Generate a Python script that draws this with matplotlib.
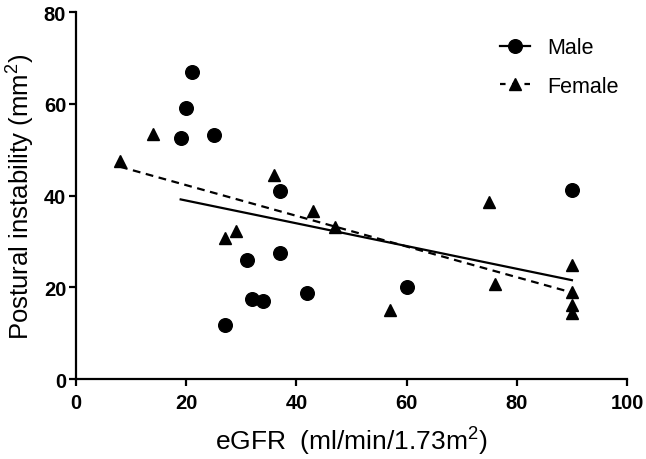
import matplotlib
matplotlib.use("Agg")
import matplotlib.pyplot as plt
import numpy as np

plt.rcParams["font.family"] = ["Liberation Sans", "DejaVu Sans"]
plt.rcParams["mathtext.fontset"] = "custom"
plt.rcParams["mathtext.rm"] = "Liberation Sans"
plt.rcParams["mathtext.it"] = "Liberation Sans"
plt.rcParams["mathtext.default"] = "regular"

# eGFR (x) and postural instability (y) per group
male_egfr = [19, 20, 21, 25, 27, 31, 32, 34, 37, 37, 42, 60, 90]
male_pi = [52.6, 59, 67, 53.3, 11.7, 26, 17.4, 17, 41, 27.5, 18.7, 20, 41.2]
female_egfr = [8, 14, 27, 29, 36, 43, 47, 57, 75, 76, 90, 90, 90, 90]
female_pi = [47.5, 53.5, 30.8, 32.3, 44.5, 36.6, 33.2, 15.1, 38.5, 20.7,
             24.8, 19.0, 16.2, 14.4]

xticks = [0, 20, 40, 60, 80, 100]
yticks = [0, 20, 40, 60, 80]

fig = plt.figure(figsize=(6.46, 4.60), dpi=100)
ax = fig.add_axes([0.1176, 0.1739, 0.853, 0.7978])


def fit_line(x, y):
    x = np.asarray(x, float)
    y = np.asarray(y, float)
    k, b = np.polyfit(x, y, 1)
    xs = np.array([x.min(), x.max()])
    return xs, k * xs + b


# regression lines over each group's data range
mx, my = fit_line(male_egfr, male_pi)
fx, fy = fit_line(female_egfr, female_pi)
ax.plot(mx, my, color="black", linewidth=1.6, zorder=2)
ax.plot(fx, fy, color="black", linewidth=1.6, linestyle=(0, (3.5, 2.5)), zorder=2)

ax.plot(male_egfr, male_pi, "o", color="black", markersize=9.8,
        clip_on=False, zorder=3)
ax.plot(female_egfr, female_pi, "^", color="black", markersize=8,
        clip_on=False, zorder=3)

# legend handles: line + marker like GraphPad
h_m, = ax.plot([], [], "-o", color="black", linewidth=1.6, markersize=9.8)
h_f, = ax.plot([], [], "^", linestyle=(0, (2.5, 3)), color="black",
               linewidth=1.6, markersize=8)
ax.legend([h_m, h_f], ["Male", "Female"], loc="upper left",
          bbox_to_anchor=(0.742, 0.972), frameon=False, fontsize=15.5,
          handlelength=1.4, handletextpad=0.8, labelspacing=0.8,
          borderpad=0.2)

ax.set_xlim(0, 100)
ax.set_ylim(0, 80)
ax.set_xticks(xticks)
ax.set_yticks(yticks)
for s in ["top", "right"]:
    ax.spines[s].set_visible(False)
for s in ["left", "bottom"]:
    ax.spines[s].set_linewidth(1.6)
ax.tick_params(direction="out", length=5, width=1.6, labelsize=14.5)
ax.tick_params(axis="x", pad=5)
ax.tick_params(axis="y", pad=2)
for lab in ax.get_xticklabels() + ax.get_yticklabels():
    lab.set_fontweight("bold")

ax.set_xlabel(r"eGFR  (ml/min/1.73m$^2$)", fontsize=19, labelpad=9)
ax.set_ylabel(r"Postural instability (mm$^2$)", fontsize=18.5, labelpad=5)

fig.savefig("out.png", dpi=100)
